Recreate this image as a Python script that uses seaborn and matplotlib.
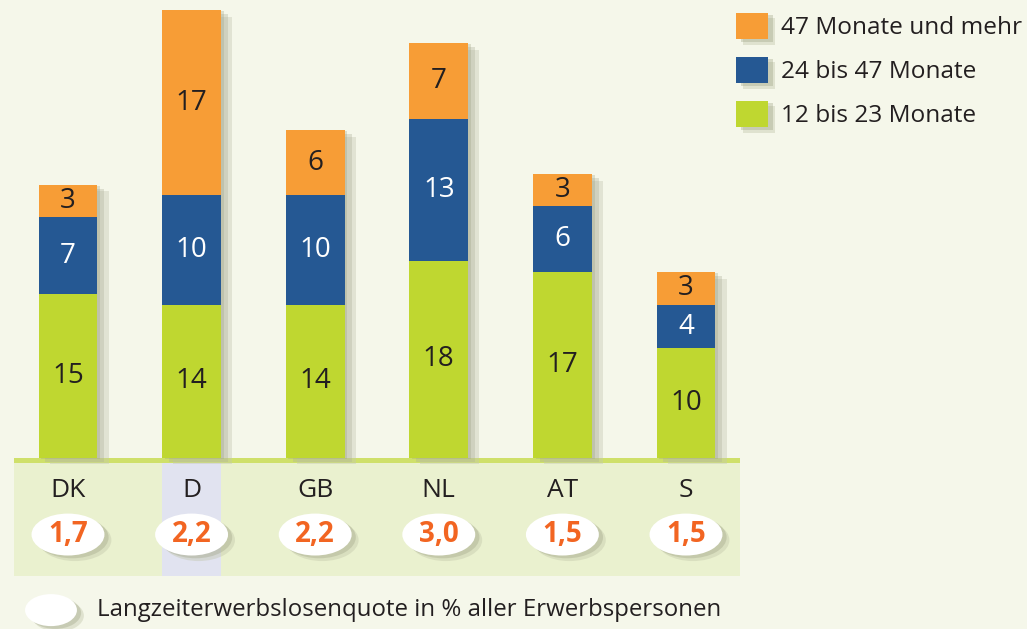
import matplotlib

matplotlib.use('Agg')
import matplotlib.patheffects as pe
import matplotlib.pyplot as plt
import pandas as pd
import seaborn as sns
from matplotlib.patches import Ellipse, Patch, Rectangle

# data
countries = ['DK', 'D', 'GB', 'NL', 'AT', 'S']
months_12_23 = [15, 14, 14, 18, 17, 10]
months_24_47 = [7, 10, 10, 13, 6, 4]
months_47_plus = [3, 17, 6, 7, 3, 3]
quote_labels = ['1,7', '2,2', '2,2', '3,0', '1,5', '1,5']
series_labels = ['47 Monate und mehr', '24 bis 47 Monate', '12 bis 23 Monate']
footnote = 'Langzeiterwerbslosenquote in % aller Erwerbspersonen'
highlight = 'D'

GREEN = '#bfd730'
BLUE = '#255893'
ORANGE = '#f79d36'
BG = '#f5f7ea'
BAND = '#eaf1cf'
BAND_LINE = '#cfe06a'
HILITE = '#e1e3f0'
RED = '#f26522'
INK = '#231f20'

df = pd.DataFrame({
    'country': countries,
    'low': months_12_23,
    'mid': months_24_47,
    'high': months_47_plus,
})
df['low_mid'] = df['low'] + df['mid']
df['total'] = df['low_mid'] + df['high']

sns.set_theme(style='white')
plt.rcParams['font.family'] = ['Open Sans', 'DejaVu Sans']

fig = plt.figure(figsize=(10.27, 6.29), dpi=100, facecolor=BG)
ax = fig.add_axes([0, 0, 1, 1])
ax.set_facecolor(BG)

bar_w = 0.477
shadow = [
    pe.SimplePatchShadow(offset=(8, -5), shadow_rgbFace='#c4c7b2', alpha=0.4),
    pe.SimplePatchShadow(offset=(5, -3), shadow_rgbFace='#aeb29a', alpha=0.35),
    pe.SimplePatchShadow(offset=(2, -1), shadow_rgbFace='#9da283', alpha=0.3),
    pe.Normal(),
]

# cumulative layers, drawn back to front
for col, colr in (('total', ORANGE), ('low_mid', BLUE), ('low', GREEN)):
    sns.barplot(data=df, x='country', y=col, color=colr, saturation=1,
                width=bar_w, errorbar=None, linewidth=0, edgecolor='none',
                ax=ax, zorder=3)
for p in ax.containers[0].patches:
    p.set_path_effects(shadow)

# segment labels
for i, row in df.iterrows():
    ax.text(i, row['low'] / 2, str(row['low']), ha='center', va='center',
            fontsize=20, color=INK, zorder=5)
    ax.text(i, row['low'] + row['mid'] / 2, str(row['mid']), ha='center', va='center',
            fontsize=20, color='white', zorder=5)
    ax.text(i, row['low_mid'] + row['high'] / 2, str(row['high']), ha='center', va='center',
            fontsize=20, color=INK, zorder=5)

# lower band with country names and rate ellipses
n = len(countries)
band_top, band_bot = -0.1, -10.85
ax.add_patch(Rectangle((-0.44, band_bot), n - 1 + 0.88, band_top - band_bot,
                       facecolor=BAND, edgecolor='none', zorder=1))
ax.add_patch(Rectangle((-0.44, band_top - 0.38), n - 1 + 0.88, 0.48,
                       facecolor=BAND_LINE, edgecolor='none', zorder=2))
hi = countries.index(highlight)
ax.add_patch(Rectangle((hi - bar_w / 2, band_bot), bar_w, band_top - 0.38 - band_bot,
                       facecolor=HILITE, edgecolor='none', zorder=2))

ell_shadow = [
    pe.SimplePatchShadow(offset=(5, -4), shadow_rgbFace='#c0c4a8', alpha=0.4),
    pe.SimplePatchShadow(offset=(3, -2), shadow_rgbFace='#9da283', alpha=0.35),
    pe.Normal(),
]
for i, (c, q) in enumerate(zip(countries, quote_labels)):
    ax.text(i, -3.0, c, ha='center', va='center', fontsize=19, color=INK, zorder=5)
    e = Ellipse((i, -7.05), width=0.59, height=3.84, facecolor='white',
                edgecolor='none', zorder=4)
    e.set_path_effects(ell_shadow)
    ax.add_patch(e)
    ax.text(i, -7.05, q, ha='center', va='center', fontsize=20, fontweight='bold',
            color=RED, zorder=5)

# footnote
e = Ellipse((-0.1375, -13.97), width=0.42, height=2.93, facecolor='white',
            edgecolor='none', zorder=4)
e.set_path_effects(ell_shadow)
ax.add_patch(e)
ax.text(0.235, -13.97, footnote, ha='left', va='center', fontsize=17.3, color=INK)

# legend
handles = [Patch(facecolor=c, edgecolor='none') for c in (ORANGE, BLUE, GREEN)]
leg = ax.legend(handles, series_labels, loc='upper left', bbox_to_anchor=(0.717, 0.98),
                frameon=False, fontsize=17.6, handlelength=1.31, handleheight=1.31,
                handletextpad=0.5, labelspacing=0.67, borderpad=0, borderaxespad=0)
for t in leg.get_texts():
    t.set_color(INK)
for h in leg.legend_handles:
    h.set_path_effects(ell_shadow)

ax.set_xlim(-0.550, 7.759)
ax.set_ylim(-15.70, 41.90)
ax.set_axis_off()

fig.savefig('out.png', dpi=100, facecolor=BG)
